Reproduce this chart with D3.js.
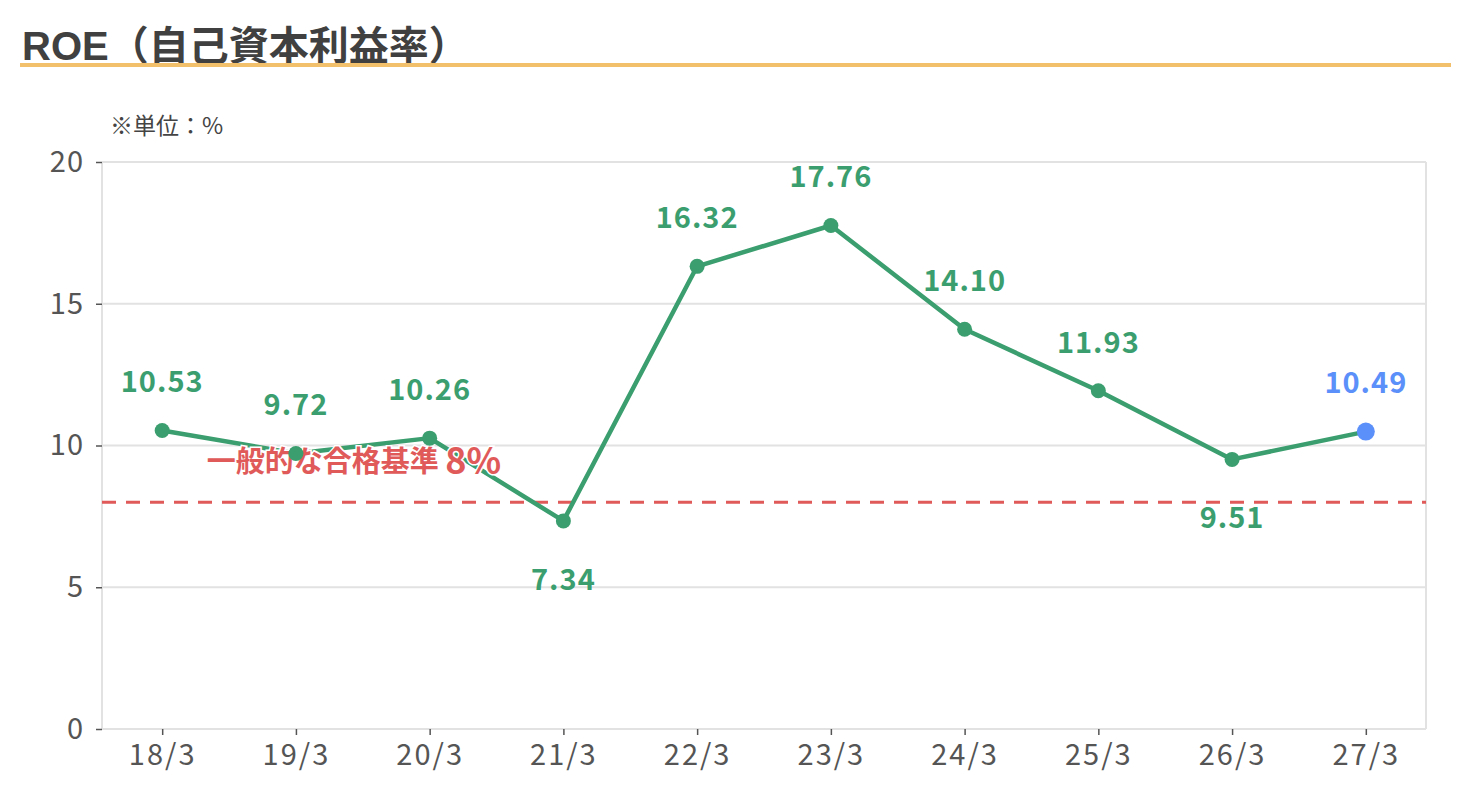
<!DOCTYPE html>
<html>
<head>
<meta charset="utf-8">
<script src="https://cdn.jsdelivr.net/npm/d3@7"></script>
<style>
  body { margin: 0; background: #fff; }
  svg text { font-family: "Noto Sans CJK JP", "Noto Sans", sans-serif; }
</style>
</head>
<body>
<svg width="1470" height="810"></svg>
<script>
const years = ['18/3', '19/3', '20/3', '21/3', '22/3', '23/3', '24/3', '25/3', '26/3', '27/3'];
const roe = [10.53, 9.72, 10.26, 7.34, 16.32, 17.76, 14.10, 11.93, 9.51, 10.49];
const yTicks = [0, 5, 10, 15, 20];
const labelBelow = ['21/3', '26/3'];
const forecast = ['27/3'];
const benchmark = 8;

const green = '#3a9e6e', blue = '#5b8ff9', red = '#e05a5a';

const svg = d3.select('svg');
const plotL = 102, plotR = 1426, plotT = 162, plotB = 729;

const x = d3.scalePoint().domain(years).range([plotL, plotR]).padding(0.45);
const y = d3.scaleLinear().domain([0, 20]).range([plotB, plotT]);

// title
svg.append('text')
    .attr('x', 22).attr('y', 60)
    .style('font-family', '"Liberation Sans", "Noto Sans CJK JP", sans-serif')
    .style('font-size', '40px').style('font-weight', 'bold')
    .style('fill', '#404040')
    .text('ROE（自己資本利益率）');
svg.append('rect')
    .attr('x', 20).attr('y', 63).attr('width', 1431).attr('height', 4)
    .style('fill', '#f2c06a');

svg.append('text')
    .attr('x', 110).attr('y', 134)
    .style('font-size', '23px').style('fill', '#444')
    .text('※単位：%');

// grid
svg.append('g')
    .selectAll('line')
    .data(yTicks)
    .enter()
    .append('line')
    .attr('x1', plotL).attr('x2', plotR)
    .attr('y1', d => y(d)).attr('y2', d => y(d))
    .style('stroke', '#e2e2e2').style('stroke-width', 2);
svg.append('line')
    .attr('x1', plotL).attr('x2', plotL).attr('y1', plotT).attr('y2', plotB)
    .style('stroke', '#e2e2e2').style('stroke-width', 2);
svg.append('line')
    .attr('x1', plotR).attr('x2', plotR).attr('y1', plotT).attr('y2', plotB)
    .style('stroke', '#e2e2e2').style('stroke-width', 2);

// axes
let yAxis = svg.append('g')
    .attr('transform', 'translate(' + plotL + ',0)')
    .call(d3.axisLeft(y).tickValues(yTicks).tickSize(6).tickPadding(12));
yAxis.select('.domain').remove();
yAxis.selectAll('line').style('stroke', '#555').style('stroke-width', 1.5);
yAxis.selectAll('text').style('font-size', '29px').style('fill', '#555')
    .style('letter-spacing', '1px');

let xAxis = svg.append('g')
    .attr('transform', 'translate(0,' + plotB + ')')
    .call(d3.axisBottom(x).tickSize(6).tickPadding(9));
xAxis.select('.domain').remove();
xAxis.selectAll('line').style('stroke', '#555').style('stroke-width', 1.5);
xAxis.selectAll('text').style('font-size', '29px').style('fill', '#555')
    .style('letter-spacing', '2px');

// benchmark line
svg.append('line')
    .attr('x1', plotL).attr('x2', plotR)
    .attr('y1', y(benchmark)).attr('y2', y(benchmark))
    .style('stroke', red).style('stroke-width', 3)
    .style('stroke-dasharray', '14 10');

// line
let line = d3.line()
    .x((d, i) => x(years[i]))
    .y(d => y(d));

svg.append('path')
    .datum(roe)
    .attr('d', line)
    .style('fill', 'none')
    .style('stroke', green)
    .style('stroke-width', 4.5)
    .style('stroke-linejoin', 'round');

let bench = svg.append('text')
    .attr('x', 354).attr('y', y(benchmark) - 38)
    .attr('text-anchor', 'middle')
    .attr('dominant-baseline', 'middle')
    .style('font-size', '29px').style('font-weight', 'bold')
    .style('fill', red)
    .style('paint-order', 'stroke').style('stroke', '#fff').style('stroke-width', 3);
bench.append('tspan').text('一般的な合格基準 ');
bench.append('tspan').style('font-size', '36px').text(benchmark + '%');

svg.append('g')
    .selectAll('circle')
    .data(roe)
    .enter()
    .append('circle')
    .attr('cx', (d, i) => x(years[i]))
    .attr('cy', d => y(d))
    .attr('r', (d, i) => forecast.includes(years[i]) ? 9 : 7.5)
    .style('fill', (d, i) => forecast.includes(years[i]) ? blue : green);

svg.append('g')
    .selectAll('text')
    .data(roe)
    .enter()
    .append('text')
    .attr('x', (d, i) => x(years[i]))
    .attr('y', (d, i) => y(d) + (labelBelow.includes(years[i]) ? 61 : -46))
    .attr('text-anchor', 'middle')
    .attr('dominant-baseline', 'middle')
    .style('font-size', '29px').style('font-weight', 'bold')
    .style('letter-spacing', '1px')
    .style('fill', (d, i) => forecast.includes(years[i]) ? blue : green)
    .text(d => d.toFixed(2));
</script>
</body>
</html>
